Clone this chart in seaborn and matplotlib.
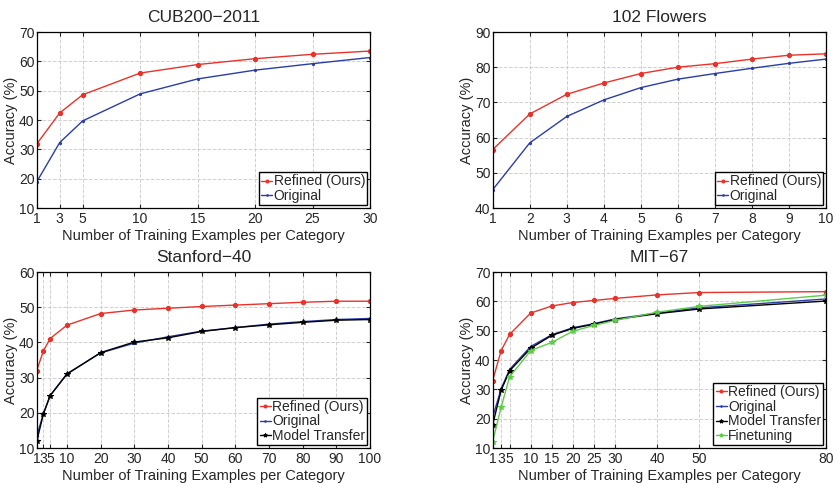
import numpy as np
import pandas as pd
import matplotlib
matplotlib.use("Agg")
import matplotlib.pyplot as plt
import seaborn as sns

# --- data ---
cub_x = [1, 3, 5, 10, 15, 20, 25, 30]
cub_refined = [31.8, 42.4, 48.6, 56.0, 58.9, 60.9, 62.4, 63.5]
cub_original = [18.9, 32.3, 39.7, 48.9, 54.0, 57.0, 59.2, 61.3]

flw_x = [1, 2, 3, 4, 5, 6, 7, 8, 9, 10]
flw_refined = [56.6, 66.7, 72.3, 75.5, 78.2, 80.0, 81.0, 82.3, 83.4, 83.8]
flw_original = [45.2, 58.5, 66.0, 70.7, 74.2, 76.6, 78.2, 79.7, 81.1, 82.3]

stf_x = [1, 3, 5, 10, 20, 30, 40, 50, 60, 70, 80, 90, 100]
stf_refined = [32.0, 37.6, 41.1, 44.9, 48.2, 49.2, 49.7, 50.2, 50.6, 51.0, 51.4, 51.7, 51.7]
stf_original = [13.3, 19.8, 24.9, 31.1, 37.0, 39.8, 41.6, 43.2, 44.2, 45.2, 45.9, 46.5, 46.8]
stf_transfer = [11.9, 19.7, 24.9, 31.0, 37.1, 40.1, 41.3, 43.1, 44.2, 45.0, 45.7, 46.3, 46.5]

mit_x = [1, 3, 5, 10, 15, 20, 25, 30, 40, 50, 80]
mit_refined = [33.0, 43.2, 48.7, 56.0, 58.4, 59.6, 60.3, 61.0, 62.2, 63.0, 63.3]
mit_original = [20.5, 30.2, 36.8, 44.6, 48.6, 51.0, 52.4, 54.0, 56.0, 57.8, 60.8]
mit_transfer = [18.0, 29.7, 36.3, 44.0, 48.4, 50.8, 52.2, 53.8, 55.8, 57.4, 60.1]
mit_finetune = [12.2, 23.9, 34.2, 43.2, 46.0, 49.8, 51.8, 53.5, 56.3, 58.3, 62.1]

RED = "#e8332b"
BLUE = "#2b3ea6"
BLACK = "#000000"
GREEN = "#5dcc48"

sns.set_style("ticks")
plt.rcParams["font.family"] = ["Liberation Sans", "DejaVu Sans"]

fig = plt.figure(figsize=(8.37, 4.83), dpi=100)
W, H = 837, 483
left_pos = [36.7, 492.7]
top_pos = [32, 272]
aw, ah = 333.3, 176


def make_ax(col, row):
    l = left_pos[col] / W
    b = 1 - (top_pos[row] + ah) / H
    return fig.add_axes([l, b, aw / W, ah / H])


def series(ax, x, y, color, marker, ms, label):
    sns.lineplot(x=x, y=y, ax=ax, color=color, marker=marker, markersize=ms,
                 markeredgecolor=color, markeredgewidth=0.8, linewidth=1.0,
                 label=label, estimator=None, sort=False)


def style(ax, title, xlim, ylim, xticks, yticks):
    ax.set_xlim(*xlim)
    ax.set_ylim(*ylim)
    ax.set_xticks(xticks)
    ax.set_yticks(yticks)
    ax.set_title(title, fontsize=12.5, pad=7)
    ax.set_xlabel("Number of Training Examples per Category", fontsize=10.5, labelpad=2)
    ax.set_ylabel("Accuracy (%)", fontsize=10.5, labelpad=1)
    ax.tick_params(direction="in", top=True, right=True, labelsize=10,
                   length=3, width=0.8, pad=1.5)
    ax.tick_params(axis="x", pad=3)
    ax.grid(True, linestyle="--", color="#d0d0d0", linewidth=0.7)
    ax.set_axisbelow(True)
    for s in ax.spines.values():
        s.set_linewidth(0.9)
        s.set_color("black")
    leg = ax.legend(loc="lower right", fontsize=10, frameon=True, fancybox=False,
                    handlelength=0.8, handletextpad=0.1, borderpad=0.15,
                    labelspacing=0.05, borderaxespad=0.2, markerscale=0.7)
    leg.get_frame().set_edgecolor("black")
    leg.get_frame().set_linewidth(1.0)
    leg.get_frame().set_alpha(1)


# CUB200-2011
ax = make_ax(0, 0)
series(ax, cub_x, cub_refined, RED, "o", 3, "Refined (Ours)")
series(ax, cub_x, cub_original, BLUE, ".", 3, "Original")
style(ax, "CUB200\u22122011", (1, 30), (10, 70), cub_x, range(10, 71, 10))

# 102 Flowers
ax = make_ax(1, 0)
series(ax, flw_x, flw_refined, RED, "o", 3, "Refined (Ours)")
series(ax, flw_x, flw_original, BLUE, ".", 3, "Original")
style(ax, "102 Flowers", (1, 10), (40, 90), flw_x, range(40, 91, 10))

# Stanford-40
ax = make_ax(0, 1)
series(ax, stf_x, stf_refined, RED, "o", 3, "Refined (Ours)")
series(ax, stf_x, stf_original, BLUE, ".", 3, "Original")
series(ax, stf_x, stf_transfer, BLACK, "*", 4, "Model Transfer")
style(ax, "Stanford\u221240", (1, 100), (10, 60), stf_x, range(10, 61, 10))

# MIT-67
ax = make_ax(1, 1)
series(ax, mit_x, mit_refined, RED, "o", 3, "Refined (Ours)")
series(ax, mit_x, mit_original, BLUE, ".", 3, "Original")
series(ax, mit_x, mit_transfer, BLACK, "*", 4, "Model Transfer")
series(ax, mit_x, mit_finetune, GREEN, "*", 4, "Finetuning")
style(ax, "MIT\u221267", (1, 80), (10, 70), mit_x, range(10, 71, 10))

fig.savefig("out.png", dpi=100)
